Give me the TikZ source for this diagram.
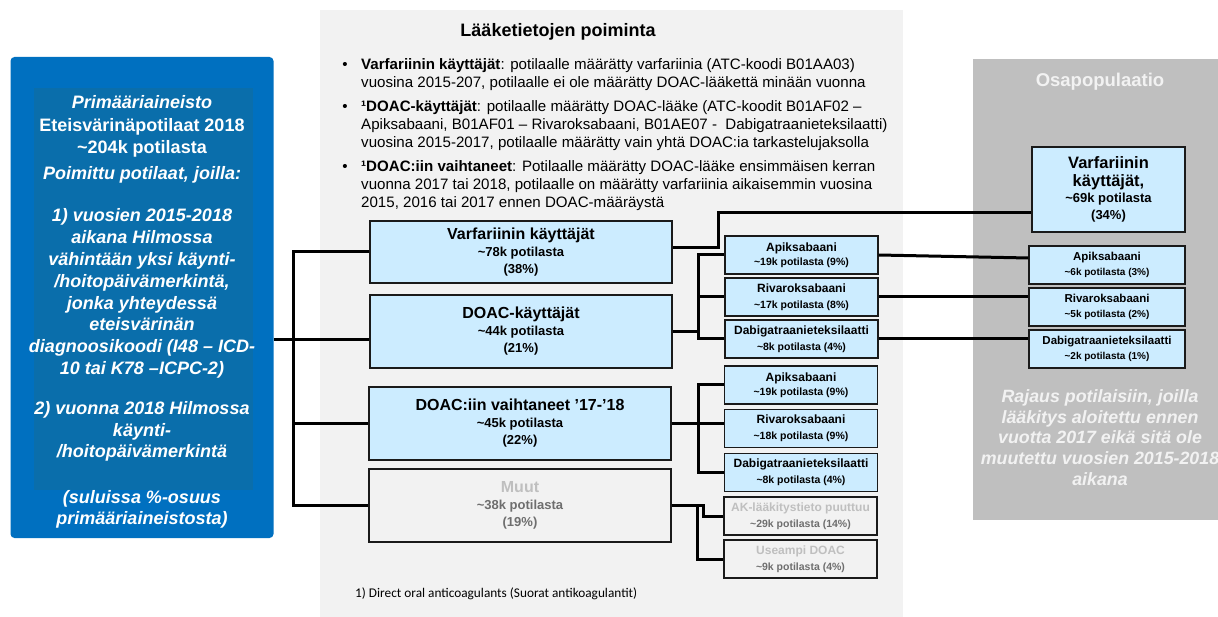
\documentclass[tikz,border=0pt]{standalone}
\usepackage{fontspec}
\setmainfont{Liberation Sans}
\newfontfamily\calibfont{Carlito}
\definecolor{outerblue}{HTML}{0070C0}
\definecolor{innerblue}{HTML}{0A6EAB}
\definecolor{boxblue}{HTML}{CCECFF}
\definecolor{panel}{HTML}{F2F2F2}
\definecolor{rpanel}{HTML}{BFBFBF}
\definecolor{mutedtitle}{HTML}{BFBFBF}
\definecolor{mutedsub}{HTML}{6E6E6E}
\definecolor{offwhite}{HTML}{F2F2F2}
\definecolor{edge}{HTML}{1A1A1A}
\begin{document}
\begin{tikzpicture}[x=1pt,y=-1pt,
  conn/.style={line width=3pt, draw=black},
  lt/.style={text=white, align=center, inner sep=0pt, font=\fontsize{18}{21.8}\selectfont\bfseries},
  bt/.style={anchor=base west, inner sep=0pt, font=\fontsize{15.1}{18}\selectfont},
  mb/.style={draw=edge, line width=1.2pt, fill=boxblue, minimum width=302pt, inner sep=0pt, align=center, font=\fontsize{13}{17}\selectfont\bfseries},
  sb/.style={draw=edge, line width=1.2pt, fill=boxblue, minimum width=153pt, minimum height=38pt, inner sep=0pt, align=center, font=\fontsize{10.5}{16}\selectfont\bfseries},
  gb/.style={sb, fill=panel},
  rb/.style={sb, minimum width=156pt, font=\fontsize{10}{14.5}\selectfont\bfseries}
]
\useasboundingbox (0,0) rectangle (1218,617);
\fill[white] (0,0) rectangle (1218,617);
% panels
\fill[panel] (320,10) rectangle (903,617);
\fill[rpanel] (973,59) rectangle (1218,520);
\node[fill=outerblue, rounded corners=4pt, minimum width=263pt, minimum height=481pt, inner sep=0pt] (blue) at (142,297.5) {};
\fill[innerblue] (34,88) rectangle (253,490);

% left text
\node[lt, font=\fontsize{18}{21.8}\selectfont\bfseries\itshape] (la) at (142,102) {Primääriaineisto};
\node[lt] (lb) at (142,137.5) {Eteisvärinäpotilaat 2018\\\textasciitilde204k potilasta};
\node[lt, font=\fontsize{18}{21.8}\selectfont\bfseries\itshape] (lc) at (142,175) {Poimittu potilaat, joilla:};
\node[lt, font=\fontsize{18}{21.8}\selectfont\bfseries\itshape] (ld) at (142,293.5) {1) vuosien 2015-2018\\aikana Hilmossa\\vähintään yksi käynti-\\/hoitopäivämerkintä,\\jonka yhteydessä\\eteisvärinän\\diagnoosikoodi (I48 – ICD-\\10 tai K78 –ICPC-2)};
\node[lt, font=\fontsize{18}{21.5}\selectfont\bfseries\itshape] (le) at (142,431.5) {2) vuonna 2018 Hilmossa\\käynti-\\/hoitopäivämerkintä};
\node[lt, font=\fontsize{18}{21}\selectfont\bfseries\itshape] (lf) at (142,509.5) {(suluissa \%-osuus\\primääriaineistosta)};

% middle title and bullets
\node[inner sep=0pt, font=\fontsize{18}{20}\selectfont\bfseries] (title) at (558,32) {Lääketietojen poiminta};
\node[bt, anchor=base] (d1) at (345,70) {•};
\node[bt] (b1a) at (361,70) {\textbf{Varfariinin käyttäjät}: potilaalle määrätty varfariinia (ATC-koodi B01AA03)};
\node[bt] (b1b) at (361,88) {vuosina 2015-207, potilaalle ei ole määrätty DOAC-lääkettä minään vuonna};
\node[bt, anchor=base] (d2) at (345,112) {•};
\node[bt] (b2a) at (361,112) {\textbf{¹DOAC-käyttäjät}: potilaalle määrätty DOAC-lääke (ATC-koodit B01AF02 –};
\node[bt] (b2b) at (361,130) {Apiksabaani, B01AF01 – Rivaroksabaani, B01AE07 -\ \ Dabigatraanieteksilaatti)};
\node[bt] (b2c) at (361,148) {vuosina 2015-2017, potilaalle määrätty vain yhtä DOAC:ia tarkastelujaksolla};
\node[bt, anchor=base] (d3) at (345,172) {•};
\node[bt] (b3a) at (361,172) {\textbf{¹DOAC:iin vaihtaneet}: Potilaalle määrätty DOAC-lääke ensimmäisen kerran};
\node[bt] (b3b) at (361,190) {vuonna 2017 tai 2018, potilaalle on määrätty varfariinia aikaisemmin vuosina};
\node[bt] (b3c) at (361,208) {2015, 2016 tai 2017 ennen DOAC-määräystä};

% middle boxes
\node[mb, minimum height=62pt] (v) at (521,252) {{\fontsize{16}{18}\selectfont Varfariinin käyttäjät}\\\textasciitilde78k potilasta\\(38\%)};
\node[mb, minimum height=73pt] (d) at (521,331.5) {{\fontsize{16}{18}\selectfont DOAC-käyttäjät}\\\textasciitilde44k potilasta\\(21\%)};
\node[mb, minimum height=73pt] (s) at (520,423.5) {{\fontsize{16}{18}\selectfont DOAC:iin vaihtaneet ’17-’18}\\\textasciitilde45k potilasta\\(22\%)};
\node[mb, fill=panel, minimum height=73pt] (m) at (520,505.5) {{\color{mutedtitle}\fontsize{16}{18}\selectfont Muut}\\{\color{mutedsub}\textasciitilde38k potilasta}\\{\color{mutedsub}(19\%)}};

% small boxes, DOAC group
\node[sb, font=\fontsize{10.5}{14.5}\selectfont\bfseries] (a1) at (801.5,255) {{\fontsize{12}{14}\selectfont Apiksabaani}\\\textasciitilde19k potilasta (9\%)};
\node[sb] (r1) at (801.5,297) {{\fontsize{12}{14}\selectfont Rivaroksabaani}\\\textasciitilde17k potilasta (8\%)};
\node[sb] (g1) at (801.5,339) {{\fontsize{12}{14}\selectfont Dabigatraanieteksilaatti}\\\textasciitilde8k potilasta (4\%)};
% small boxes, switchers group
\node[sb, font=\fontsize{10.5}{14.5}\selectfont\bfseries] (a2) at (801,385) {{\fontsize{12}{14}\selectfont Apiksabaani}\\\textasciitilde19k potilasta (9\%)};
\node[sb] (r2) at (801,428.5) {{\fontsize{12}{14}\selectfont Rivaroksabaani}\\\textasciitilde18k potilasta (9\%)};
\node[sb] (g2) at (801,472.5) {{\fontsize{12}{14}\selectfont Dabigatraanieteksilaatti}\\\textasciitilde8k potilasta (4\%)};
\node[gb] (ak) at (800.5,516) {{\color{mutedtitle}\fontsize{12}{14}\selectfont AK-lääkitystieto puuttuu}\\{\color{mutedsub}\textasciitilde29k potilasta (14\%)}};
\node[gb] (us) at (800.5,559) {{\color{mutedtitle}\fontsize{12}{14}\selectfont Useampi DOAC}\\{\color{mutedsub}\textasciitilde9k potilasta (4\%)}};

% right panel
\node[inner sep=0pt, text=offwhite, font=\fontsize{18.5}{21}\selectfont\bfseries] (osa) at (1100,82) {Osapopulaatio};
\node[sb, minimum height=85pt, font=\fontsize{13}{16.5}\selectfont\bfseries] (rv) at (1108.5,189.5) {{\fontsize{16.5}{19}\selectfont Varfariinin}\\[1pt]{\fontsize{16.5}{19}\selectfont käyttäjät,}\\\textasciitilde69k potilasta\\(34\%)};
\node[rb] (ra) at (1107,265) {{\fontsize{11.5}{14}\selectfont Apiksabaani}\\\textasciitilde6k potilasta (3\%)};
\node[rb] (rr) at (1107,307) {{\fontsize{11.5}{14}\selectfont Rivaroksabaani}\\\textasciitilde5k potilasta (2\%)};
\node[rb] (rg) at (1107,349) {{\fontsize{11.5}{14}\selectfont Dabigatraanieteksilaatti}\\\textasciitilde2k potilasta (1\%)};
\node[align=center, inner sep=0pt, text=offwhite, font=\fontsize{17.8}{20.8}\selectfont\bfseries\itshape] (rnote) at (1100,437.5) {Rajaus potilaisiin, joilla\\lääkitys aloitettu ennen\\vuotta 2017 eikä sitä ole\\muutettu vuosien 2015-2018\\aikana};

% footnote
\node[anchor=base west, inner sep=0pt, font=\calibfont\fontsize{13.3}{15}\selectfont] (fn) at (355,597) {1) Direct oral anticoagulants (Suorat antikoagulantit)};

% connectors
\coordinate (tL) at (293,340);
\draw[conn] (tL -| blue.east) -- (tL) -- (tL -| d.west);
\draw[conn] (v.west) -- (v.west -| tL) -- (m.west -| tL) -- (m.west);
\draw[conn] (s.west -| tL) -- (s.west);

\coordinate (t2) at (698,0);
\draw[conn] (a1.west) -- (a1.west -| t2) -- (g1.west -| t2) -- (g1.west);
\draw[conn] (r1.west -| t2) -- (r1.west);
\draw[conn] (d.east) -- (d.east -| t2);

\draw[conn] (a2.west) -- (a2.west -| t2) -- (g2.west -| t2) -- (g2.west);
\draw[conn] (s.east) -- (s.east -| r2.west);

\coordinate (mk) at (703,0);
\coordinate (mu) at (697,0);
\draw[conn] (m.east) -- (m.east -| mk) -- (mk |- ak.west) -- (ak.west);
\draw[conn] (m.east -| mu) -- (mu |- us.west) -- (us.west);

\coordinate (vk) at (718,248);
\coordinate (vt) at (718,213);
\draw[conn] (vk -| v.east) -- (vk) -- (vt) -- (vt -| rv.west);

\draw[conn] (a1.east) -- ([yshift=7pt]ra.west);
\draw[conn] (r1.east) -- (r1.east -| rr.west);
\draw[conn] (g1.east) -- (g1.east -| rg.west);
\end{tikzpicture}
\end{document}
